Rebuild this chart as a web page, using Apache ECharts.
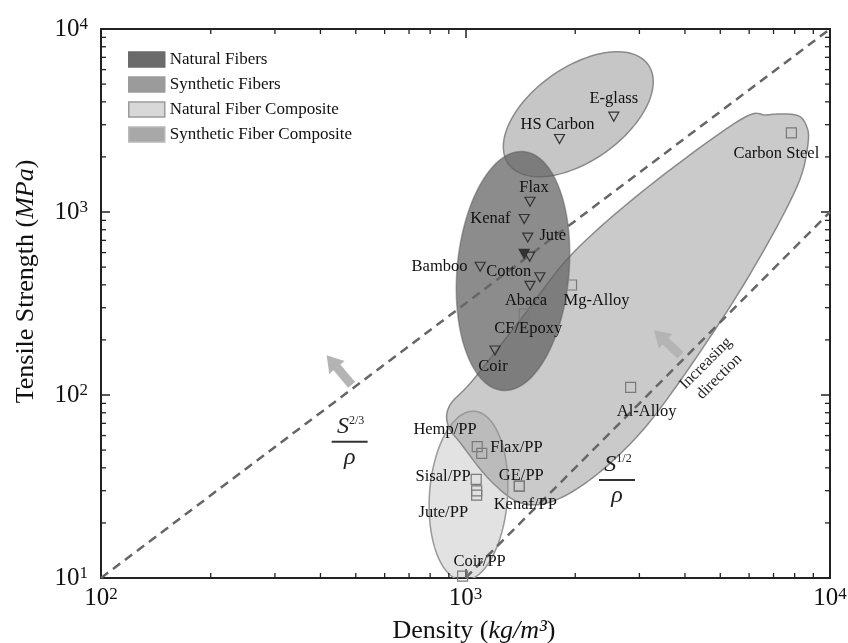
<!DOCTYPE html>
<html>
<head>
<meta charset="utf-8">
<script src="https://cdn.jsdelivr.net/npm/echarts@6/dist/echarts.min.js"></script>
<style>
  html, body { margin: 0; padding: 0; background: #fff; }
  #chart { width: 848px; height: 643px; }
</style>
</head>
<body>
<div id="chart"></div>
<script>
const SERIF = '"Liberation Serif", "Times New Roman", serif';

// axis ranges: density (kg/m3) and tensile strength (MPa)
const densityRange = [100, 10000];
const strengthRange = [10, 10000];
const densityMinorTicks = [200, 300, 400, 500, 600, 700, 800, 900, 2000, 3000, 4000, 5000, 6000, 7000, 8000, 9000];
const strengthMinorTicks = [20, 30, 40, 50, 60, 70, 80, 90, 200, 300, 400, 500, 600, 700, 800, 900,
  2000, 3000, 4000, 5000, 6000, 7000, 8000, 9000];

// fibres (triangles)
const fiberNames = ['Flax', 'Kenaf', 'Jute', '', '', 'Bamboo', 'Cotton', 'Abaca', 'Coir', 'HS Carbon', 'E-glass'];
const fiberDensity = [1503, 1449, 1482, 1449, 1500, 1097, 1600, 1503, 1205, 1811, 2552];
const fiberStrength = [1138, 916, 725, 590, 570, 502, 440, 395, 175, 2506, 3318];

// composites and metals (squares)
const compositeNames = ['CF/Epoxy', 'Mg-Alloy', 'Carbon Steel', 'Al-Alloy', 'Hemp/PP', 'Flax/PP', 'Sisal/PP',
  'Jute/PP', '', 'GE/PP', 'Kenaf/PP', 'Coir/PP'];
const compositeDensity = [1449, 1954, 7835, 2838, 1077, 1108, 1070, 1073, 1073, 1405, 1405, 982];
const compositeStrength = [277, 399, 2704, 110, 52.2, 48, 34.6, 29.9, 28.4, 31.8, 31.8, 10.25];

// material regions. ellipses: centre, end of major semi-axis, end of minor semi-axis
const regionNames = ['Natural Fibers', 'Synthetic Fibers', 'Natural Fiber Composite', 'Synthetic Fiber Composite'];
const naturalFiberRegion = [[1350, 476], [1443, 2141], [1920, 448]];
const syntheticFiberRegion = [[2039, 3422], [3171, 6381], [2418, 2120]];
const naturalCompositeRegion = [[1019, 28.1], [1058, 81.5], [1303, 27.1]];
// the composite/metal envelope is egg shaped, so it is traced as an outline
const syntheticCompositeOutline = [
  [6705, 3389], [7606, 3432], [8274, 3317], [8633, 2925], [8721, 2474], [8439, 1707], [7822, 1175],
  [6624, 631], [5275, 296.6], [3771, 110.2], [2961, 59.55], [2245, 35.6], [1739, 26.35], [1411, 25.8],
  [1167, 34.3], [978, 53.3], [895, 68.6], [907, 88.2], [1049, 120.8], [1438, 268.5], [1972, 597],
  [3168, 1369], [5663, 3182],
];

// performance index guide lines
const indexLineTwoThirds = [[100, 10], [10000, 10000]];
const indexLineHalf = [[1000, 10], [10000, 1000]];
const indexLabels = ['2/3', '1/2'];
const indexLabelAt = [[481, 55.5], [2604, 34.3]];

// arrows: tail -> tip
const arrows = [[487, 113.5, 416, 165], [3890, 165, 3289, 226]];
const noteText = 'Increasing\ndirection';
const noteAt = [4760, 136.9];

// label placement: position, distance, offset
const labelPlacement = {
  'Flax': ['top', 0, [4, 0]],
  'Kenaf': ['left', 8, [0, 0]],
  'Jute': ['right', 6, [0, -2]],
  'Bamboo': ['left', 7, [0, 0]],
  'Cotton': ['left', 3, [0, -6]],
  'Abaca': ['bottom', 1, [-4, 0]],
  'Coir': ['bottom', 3, [-2, 0]],
  'HS Carbon': ['top', 1, [-2, 0]],
  'E-glass': ['top', 4, [0, 0]],
  'CF/Epoxy': ['bottom', 1, [4, 0]],
  'Mg-Alloy': ['bottom', 2, [25, 0]],
  'Carbon Steel': ['bottom', 7, [-15, 0]],
  'Al-Alloy': ['bottom', 10, [16, 0]],
  'Hemp/PP': ['left', -5, [0, -17]],
  'Flax/PP': ['right', 3, [0, -6]],
  'Sisal/PP': ['left', 0, [0, -3]],
  'Jute/PP': ['left', 3, [0, 22]],
  'GE/PP': ['top', -4, [2, 0]],
  'Kenaf/PP': ['bottom', 5, [6, 0]],
  'Coir/PP': ['top', 0, [17, 0]],
};

const regionStyle = {
  'Natural Fibers': { fill: 'rgba(95,95,95,0.72)', stroke: 'rgba(90,90,90,0.5)', z: 4, legend: '#6b6b6b', legendBorder: '#6b6b6b' },
  'Synthetic Fibers': { fill: 'rgba(128,128,128,0.45)', stroke: '#8a8a8a', z: 3, legend: '#9b9b9b', legendBorder: '#9b9b9b' },
  'Natural Fiber Composite': { fill: 'rgba(150,150,150,0.28)', stroke: '#999', z: 2, legend: '#d8d8d8', legendBorder: '#9a9a9a' },
  'Synthetic Fiber Composite': { fill: 'rgba(128,128,128,0.42)', stroke: '#8a8a8a', z: 1, legend: '#a8a8a8', legendBorder: '#b8b8b8' },
};
const regionAnchors = {
  'Natural Fibers': naturalFiberRegion,
  'Synthetic Fibers': syntheticFiberRegion,
  'Natural Fiber Composite': naturalCompositeRegion,
};

function ellipseSeries(name) {
  const st = regionStyle[name];
  return {
    name,
    type: 'custom',
    coordinateSystem: 'cartesian2d',
    silent: true,
    clip: true,
    z: st.z,
    itemStyle: { color: st.legend },
    encode: { x: [0, 2, 4], y: [1, 3, 5] },
    data: [regionAnchors[name].flat()],
    renderItem: (params, api) => {
      const c = api.coord([api.value(0), api.value(1)]);
      const a = api.coord([api.value(2), api.value(3)]);
      const b = api.coord([api.value(4), api.value(5)]);
      const ax = a[0] - c[0], ay = a[1] - c[1];
      const bx = b[0] - c[0], by = b[1] - c[1];
      const points = [];
      for (let i = 0; i < 120; i++) {
        const t = (i / 120) * Math.PI * 2;
        points.push([c[0] + ax * Math.cos(t) + bx * Math.sin(t), c[1] + ay * Math.cos(t) + by * Math.sin(t)]);
      }
      return { type: 'polygon', shape: { points }, style: { fill: st.fill, stroke: st.stroke, lineWidth: 1.5 } };
    },
  };
}

// closed Catmull-Rom curve through the outline vertices (in pixels)
function closedSpline(pts, steps) {
  const n = pts.length;
  const out = [];
  for (let i = 0; i < n; i++) {
    const p0 = pts[(i - 1 + n) % n], p1 = pts[i], p2 = pts[(i + 1) % n], p3 = pts[(i + 2) % n];
    for (let s = 0; s < steps; s++) {
      const t = s / steps, t2 = t * t, t3 = t2 * t;
      out.push([0, 1].map((k) =>
        0.5 * (2 * p1[k] + (-p0[k] + p2[k]) * t + (2 * p0[k] - 5 * p1[k] + 4 * p2[k] - p3[k]) * t2 +
          (-p0[k] + 3 * p1[k] - 3 * p2[k] + p3[k]) * t3)
      ));
    }
  }
  return out;
}

function outlineSeries(name, outline) {
  const st = regionStyle[name];
  return {
    name,
    type: 'custom',
    coordinateSystem: 'cartesian2d',
    silent: true,
    clip: true,
    z: st.z,
    itemStyle: { color: st.legend },
    encode: { x: 0, y: 1 },
    data: outline,
    renderItem: (params, api) => {
      if (params.dataIndex !== 0) return null;
      return {
        type: 'polygon',
        shape: { points: closedSpline(outline.map((p) => api.coord(p)), 10) },
        style: { fill: st.fill, stroke: st.stroke, lineWidth: 1.5 },
      };
    },
  };
}

function pointData(names, xs, ys) {
  return names.map((name, i) => {
    const place = labelPlacement[name];
    return {
      name,
      value: [xs[i], ys[i]],
      label: place
        ? { show: true, position: place[0], distance: place[1], offset: place[2] }
        : { show: false },
    };
  });
}

const pointLabel = {
  show: true,
  formatter: (p) => p.name,
  fontFamily: SERIF,
  fontSize: 16.5,
  color: '#111',
  opacity: 1,
};

function minorTickSeries(values, onX) {
  return {
    type: 'custom',
    coordinateSystem: 'cartesian2d',
    silent: true,
    z: 20,
    data: values.map((v) => (onX ? [v, strengthRange[0]] : [densityRange[0], v])),
    renderItem: (params, api) => {
      const v = onX ? api.value(0) : api.value(1);
      const lineStyle = { stroke: '#222', lineWidth: 1.3 };
      if (onX) {
        const b = api.coord([v, strengthRange[0]]);
        const t = api.coord([v, strengthRange[1]]);
        return {
          type: 'group',
          children: [
            { type: 'line', shape: { x1: b[0], y1: b[1], x2: b[0], y2: b[1] - 5 }, style: lineStyle },
            { type: 'line', shape: { x1: t[0], y1: t[1], x2: t[0], y2: t[1] + 5 }, style: lineStyle },
          ],
        };
      }
      const l = api.coord([densityRange[0], v]);
      const r = api.coord([densityRange[1], v]);
      return {
        type: 'group',
        children: [
          { type: 'line', shape: { x1: l[0], y1: l[1], x2: l[0] + 5, y2: l[1] }, style: lineStyle },
          { type: 'line', shape: { x1: r[0], y1: r[1], x2: r[0] - 5, y2: r[1] }, style: lineStyle },
        ],
      };
    },
  };
}

const powerLabel = {
  formatter: (v) => '{b|10}{s|' + Math.round(Math.log10(v)) + '}',
  rich: {
    b: { fontFamily: SERIF, fontSize: 25, color: '#111', verticalAlign: 'bottom' },
    s: { fontFamily: SERIF, fontSize: 17, color: '#111', verticalAlign: 'top' },
  },
};

const nameRich = {
  n: { fontFamily: SERIF, fontSize: 26, color: '#111' },
  i: { fontFamily: SERIF, fontSize: 26, fontStyle: 'italic', color: '#111' },
};

const frameLine = { show: true, onZero: false, lineStyle: { color: '#222', width: 2 } };
const majorTick = { show: true, inside: true, length: 9, lineStyle: { color: '#222', width: 1.5 } };

const chart = echarts.init(document.getElementById('chart'));

chart.setOption({
  backgroundColor: '#fff',
  animation: false,
  grid: { left: 101, right: 18, top: 29, bottom: 65, containLabel: false, outerBoundsMode: 'none' },
  legend: {
    left: 128,
    top: 51,
    padding: 0,
    orient: 'vertical',
    icon: 'rect',
    itemWidth: 36,
    itemHeight: 15,
    itemGap: 8,
    selectedMode: false,
    textStyle: { fontFamily: SERIF, fontSize: 17, color: '#111' },
    data: regionNames.map((name) => ({
      name,
      itemStyle: { color: regionStyle[name].legend, borderColor: regionStyle[name].legendBorder, borderWidth: 1.5 },
    })),
  },
  xAxis: [
    {
      type: 'log',
      logBase: 10,
      min: densityRange[0],
      max: densityRange[1],
      position: 'bottom',
      axisLine: frameLine,
      axisTick: majorTick,
      splitLine: { show: false },
      axisLabel: { ...powerLabel, margin: 8 },
      name: '{n|Density (}{i|kg/m³}{n|)}',
      nameLocation: 'middle',
      nameGap: 40,
      nameTextStyle: { rich: nameRich, padding: [0, 0, 0, 17] },
    },
    {
      type: 'log',
      logBase: 10,
      min: densityRange[0],
      max: densityRange[1],
      position: 'top',
      axisLine: frameLine,
      axisTick: majorTick,
      splitLine: { show: false },
      axisLabel: { show: false },
    },
  ],
  yAxis: [
    {
      type: 'log',
      logBase: 10,
      min: strengthRange[0],
      max: strengthRange[1],
      position: 'left',
      axisLine: frameLine,
      axisTick: majorTick,
      splitLine: { show: false },
      axisLabel: { ...powerLabel, margin: 13 },
      name: '{n|Tensile Strength (}{i|MPa}{n|)}',
      nameLocation: 'middle',
      nameGap: 62,
      nameTextStyle: { rich: nameRich, padding: [0, 0, 0, 44] },
    },
    {
      type: 'log',
      logBase: 10,
      min: strengthRange[0],
      max: strengthRange[1],
      position: 'right',
      axisLine: frameLine,
      axisTick: majorTick,
      splitLine: { show: false },
      axisLabel: { show: false },
    },
  ],
  series: [
    outlineSeries('Synthetic Fiber Composite', syntheticCompositeOutline),
    ellipseSeries('Natural Fiber Composite'),
    ellipseSeries('Synthetic Fibers'),
    ellipseSeries('Natural Fibers'),
    {
      type: 'line',
      silent: true,
      symbol: 'none',
      z: 6,
      data: indexLineTwoThirds,
      lineStyle: { color: '#666', width: 2.5, type: [9, 6] },
    },
    {
      type: 'line',
      silent: true,
      symbol: 'none',
      z: 6,
      data: indexLineHalf,
      lineStyle: { color: '#666', width: 2.5, type: [9, 6] },
    },
    {
      type: 'custom',
      silent: true,
      z: 7,
      data: arrows,
      renderItem: (params, api) => {
        const p0 = api.coord([api.value(0), api.value(1)]);
        const p1 = api.coord([api.value(2), api.value(3)]);
        const dx = p1[0] - p0[0], dy = p1[1] - p0[1];
        const len = Math.hypot(dx, dy);
        const ux = dx / len, uy = dy / len, nx = -uy, ny = ux;
        const headLen = 16, headHalf = 10, shaftHalf = 4.5;
        const bx = p1[0] - ux * headLen, by = p1[1] - uy * headLen;
        return {
          type: 'polygon',
          shape: {
            points: [
              [p0[0] + nx * shaftHalf, p0[1] + ny * shaftHalf],
              [bx + nx * shaftHalf, by + ny * shaftHalf],
              [bx + nx * headHalf, by + ny * headHalf],
              p1,
              [bx - nx * headHalf, by - ny * headHalf],
              [bx - nx * shaftHalf, by - ny * shaftHalf],
              [p0[0] - nx * shaftHalf, p0[1] - ny * shaftHalf],
            ],
          },
          style: { fill: '#b4b4b4' },
        };
      },
    },
    {
      type: 'custom',
      silent: true,
      z: 8,
      data: indexLabelAt,
      renderItem: (params, api) => {
        const p = api.coord([api.value(0), api.value(1)]);
        return {
          type: 'group',
          children: [
            {
              type: 'text',
              style: {
                text: '{s|S}{e|' + indexLabels[params.dataIndex] + '}',
                x: p[0] + 1,
                y: p[1] - 3,
                align: 'center',
                verticalAlign: 'bottom',
                rich: {
                  s: { fontFamily: SERIF, fontSize: 24, fontStyle: 'italic', fill: '#222', verticalAlign: 'bottom' },
                  e: { fontFamily: SERIF, fontSize: 12, fill: '#222', verticalAlign: 'top' },
                },
              },
            },
            { type: 'line', shape: { x1: p[0] - 18, y1: p[1], x2: p[0] + 18, y2: p[1] }, style: { stroke: '#333', lineWidth: 2 } },
            {
              type: 'text',
              style: {
                text: 'ρ',
                x: p[0],
                y: p[1] + 4,
                align: 'center',
                verticalAlign: 'top',
                font: 'italic 24px ' + SERIF,
                fill: '#222',
              },
            },
          ],
        };
      },
    },
    {
      type: 'custom',
      silent: true,
      z: 8,
      data: [noteAt],
      renderItem: (params, api) => {
        const p = api.coord([api.value(0), api.value(1)]);
        return {
          type: 'text',
          x: p[0],
          y: p[1],
          rotation: (45 * Math.PI) / 180,
          style: {
            text: noteText,
            x: 0,
            y: 0,
            align: 'center',
            verticalAlign: 'middle',
            font: '16px ' + SERIF,
            lineHeight: 19,
            fill: '#222',
          },
        };
      },
    },
    {
      type: 'scatter',
      z: 10,
      symbol: 'triangle',
      symbolRotate: 180,
      symbolSize: [10, 9],
      itemStyle: { color: 'rgba(0,0,0,0)', borderColor: '#333', borderWidth: 1.2, opacity: 1 },
      label: pointLabel,
      data: pointData(fiberNames, fiberDensity, fiberStrength).map((d, i) =>
        i === 3 ? { ...d, itemStyle: { color: '#333' } } : d
      ),
    },
    {
      type: 'scatter',
      z: 10,
      symbol: 'rect',
      symbolSize: 10,
      itemStyle: { color: 'rgba(0,0,0,0)', borderColor: '#7a7a7a', borderWidth: 1.2, opacity: 1 },
      label: pointLabel,
      data: pointData(compositeNames, compositeDensity, compositeStrength),
    },
    minorTickSeries(densityMinorTicks, true),
    minorTickSeries(strengthMinorTicks, false),
  ],
});
</script>
</body>
</html>
